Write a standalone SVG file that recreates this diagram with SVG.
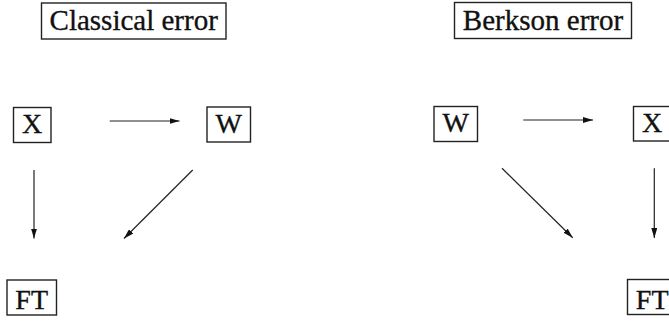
<svg xmlns="http://www.w3.org/2000/svg" width="669" height="322" viewBox="0 0 669 322">
<defs>
<style>
.box{fill:#fff;stroke:#222;stroke-width:1.4}
.t{font-family:"Liberation Serif","Times New Roman",serif;fill:#111;stroke:#111;stroke-width:0.35;text-anchor:middle}
.title{font-size:29px}
.n{font-size:28px}
.c{stroke:#222;stroke-width:1.2;fill:none;marker-end:url(#ah)}
</style>
<marker id="ah" viewBox="0 0 10 6" refX="10" refY="3" markerWidth="10" markerHeight="6" markerUnits="userSpaceOnUse" orient="auto">
<path d="M0,0 L10,3 L0,6 Z" fill="#111"/>
</marker>
</defs>
<rect width="669" height="322" fill="#fff"/>
<g id="title-classical"><rect class="box" x="41.5" y="3" width="184.5" height="36"/><text class="t title" x="133.7" y="30">Classical error</text></g>
<g id="title-berkson"><rect class="box" x="454.5" y="2.5" width="177" height="36"/><text class="t title" x="543" y="29.5">Berkson error</text></g>
<g id="c-X"><rect class="box" x="13.5" y="107.5" width="37.5" height="35"/><text class="t n" x="32.2" y="133">X</text></g>
<g id="c-W"><rect class="box" x="207" y="107" width="43.5" height="35"/><text class="t n" x="228.7" y="132.5">W</text></g>
<g id="c-FT"><rect class="box" x="7" y="280" width="49.5" height="35"/><text class="t n" x="31.7" y="309">FT</text></g>
<g id="b-W"><rect class="box" x="434" y="106.5" width="43.5" height="35"/><text class="t n" x="455.7" y="132">W</text></g>
<g id="b-X"><rect class="box" x="633.5" y="106.5" width="37.5" height="34.5"/><text class="t n" x="652.2" y="132">X</text></g>
<g id="b-FT"><rect class="box" x="627.5" y="279.5" width="49.5" height="35"/><text class="t n" x="652.2" y="308.5">FT</text></g>
<g id="connectors">
<line class="c" x1="109.7" y1="121" x2="179.5" y2="121"/>
<line class="c" x1="34" y1="170" x2="34" y2="238.5"/>
<line class="c" x1="192.7" y1="170" x2="124" y2="238.5"/>
<line class="c" x1="523.3" y1="120" x2="593" y2="120"/>
<line class="c" x1="502" y1="168.3" x2="572.7" y2="237.7"/>
<line class="c" x1="654.3" y1="168.3" x2="654.3" y2="238"/>
</g>
</svg>
